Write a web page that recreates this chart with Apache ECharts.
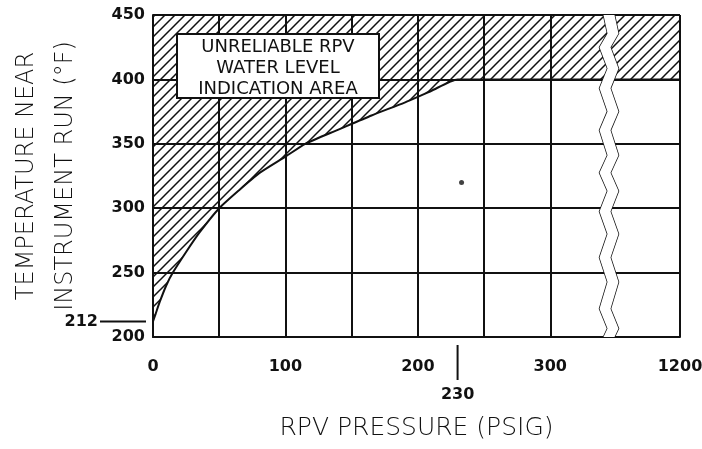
<!DOCTYPE html>
<html>
<head>
<meta charset="utf-8">
<script src="https://cdn.jsdelivr.net/npm/echarts@6/dist/echarts.min.js"></script>
<style>
  html, body { margin: 0; background: #fff; }
  #main { width: 702px; height: 449px; }
</style>
</head>
<body>
<div id="main"></div>
<script>
// saturation boundary: RPV pressure (psig) vs temperature (F)
const pressure = [0, 2, 5, 10, 15, 25, 35, 50, 65, 80, 100, 115, 140, 165, 190, 210, 230, 340, 1150, 1200];
const temperature = [212, 218, 227, 240, 250, 266, 281, 300, 314, 327, 340, 350, 361, 372, 382, 391, 400, 400, 400, 400];
const xTickLabels = [0, 100, 200, 300, 1200];
const yTicks = [200, 250, 300, 350, 400, 450];
const breakRange = [340, 1150];
const strayDot = [[233, 320]];
const boxLines = ['UNRELIABLE RPV', 'WATER LEVEL', 'INDICATION AREA'];
const markBoiling = 212;
const markPressure = 230;

const chart = echarts.init(document.getElementById('main'));

// diagonal hatching for the unreliable area
function hatch() {
  const s = 10;
  const c = document.createElement('canvas');
  c.width = c.height = s;
  const g = c.getContext('2d');
  g.strokeStyle = '#111';
  g.lineWidth = 1.5;
  g.beginPath();
  g.moveTo(-1, s + 1); g.lineTo(s + 1, -1);
  g.moveTo(-1, 1); g.lineTo(1, -1);
  g.moveTo(s - 1, s + 1); g.lineTo(s + 1, s - 1);
  g.stroke();
  return c;
}

const tickFont = { color: '#111', fontFamily: 'DejaVu Sans', fontWeight: 'bold', fontSize: 16 };
const titleFont = { color: '#111', fontFamily: 'DejaVu Sans', fontWeight: 200 };

chart.setOption({
  animation: false,
  backgroundColor: '#fff',
  grid: { left: 153, right: 22, top: 15, bottom: 112, containLabel: false, outerBoundsMode: 'none' },
  xAxis: {
    type: 'value',
    min: 0,
    max: 1200,
    interval: 50,
    breaks: [{ start: breakRange[0], end: breakRange[1], gap: '2%' }],
    breakArea: {
      show: true,
      itemStyle: { color: '#fff', borderColor: '#111', borderWidth: 1.5, borderType: 'solid', opacity: 1 },
      zigzagAmplitude: 4,
      zigzagMinSpan: 12,
      zigzagMaxSpan: 30,
      expandOnClick: false
    },
    name: 'RPV PRESSURE (PSIG)',
    nameLocation: 'middle',
    nameGap: 79,
    nameTextStyle: Object.assign({ fontSize: 25 }, titleFont),
    axisLine: { show: true, lineStyle: { color: '#111', width: 2 } },
    axisTick: { show: false },
    axisLabel: Object.assign({
      margin: 22,
      formatter: v => xTickLabels.includes(v) ? String(v) : ''
    }, tickFont),
    splitLine: { show: true, lineStyle: { color: '#111', width: 2 } }
  },
  yAxis: {
    type: 'value',
    min: yTicks[0],
    max: yTicks[yTicks.length - 1],
    interval: 50,
    name: 'TEMPERATURE NEAR\nINSTRUMENT RUN (°F)',
    nameLocation: 'middle',
    nameGap: 68,
    nameRotate: 90,
    nameTextStyle: Object.assign({ fontSize: 24, lineHeight: 39 }, titleFont),
    axisLine: { show: true, lineStyle: { color: '#111', width: 2 } },
    axisTick: { show: false },
    axisLabel: Object.assign({ margin: 8 }, tickFont),
    splitLine: { show: true, lineStyle: { color: '#111', width: 2 } }
  },
  series: [
    {
      type: 'line',
      data: pressure.map((p, i) => [p, temperature[i]]),
      symbol: 'none',
      smooth: 0.2,
      lineStyle: { color: '#111', width: 2 },
      areaStyle: { origin: 'end', color: { image: hatch(), repeat: 'repeat' }, opacity: 1 },
      z: 1
    },
    {
      type: 'scatter',
      data: strayDot,
      symbolSize: 5,
      itemStyle: { color: '#111' }
    }
  ]
});

// extra marks: the 212 line at the left and the 230 tick below the axis, plus the label box
const p212 = chart.convertToPixel({ gridIndex: 0 }, [0, markBoiling]);
const p230 = chart.convertToPixel({ gridIndex: 0 }, [markPressure, 200]);

chart.setOption({
  graphic: [
    { type: 'line', shape: { x1: p212[0] - 53, y1: p212[1], x2: p212[0] - 7, y2: p212[1] }, style: { stroke: '#111', lineWidth: 2 } },
    { type: 'text', x: p212[0] - 55, y: p212[1], style: { text: String(markBoiling), align: 'right', verticalAlign: 'middle', fill: '#111', font: 'bold 16px "DejaVu Sans"' } },
    { type: 'line', shape: { x1: p230[0], y1: p230[1] + 8, x2: p230[0], y2: p230[1] + 43 }, style: { stroke: '#111', lineWidth: 2 } },
    { type: 'text', x: p230[0], y: p230[1] + 58, style: { text: String(markPressure), align: 'center', verticalAlign: 'middle', fill: '#111', font: 'bold 16px "DejaVu Sans"' } },
    {
      type: 'rect', z: 100,
      shape: { x: 177, y: 34, width: 202, height: 64 },
      style: { fill: '#fff', stroke: '#111', lineWidth: 2 }
    },
    {
      type: 'text', z: 101, x: 278, y: 68,
      style: {
        text: boxLines.join('\n'),
        align: 'center', verticalAlign: 'middle', lineHeight: 21,
        fill: '#111', font: '18px "DejaVu Sans"'
      }
    }
  ]
});
</script>
</body>
</html>
